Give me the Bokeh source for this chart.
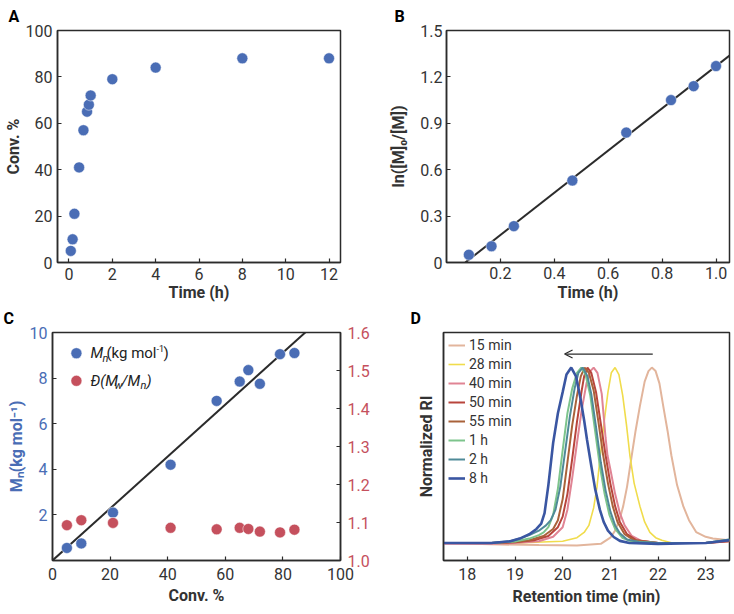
import numpy as np
from bokeh.plotting import figure
from bokeh.layouts import column, row
from bokeh.models import (Range1d, LinearAxis, FixedTicker, PrintfTickFormatter, Label,
                          Legend, LegendItem, Arrow, OpenHead)
from bokeh.embed import file_html
from bokeh.resources import INLINE

# ---------------- data ----------------
# Panel A: conversion vs time
time_a = [0.083, 0.167, 0.25, 0.467, 0.667, 0.833, 0.917, 1.0, 2.0, 4.0, 8.0, 12.0]
conv_a = [5, 10, 21, 41, 57, 65, 68, 72, 79, 84, 88, 88]

# Panel B: ln([M]0/[M]) vs time
time_b = [0.083, 0.167, 0.25, 0.467, 0.667, 0.833, 0.917, 1.0]
lnm_b = [0.05, 0.105, 0.235, 0.53, 0.84, 1.05, 1.14, 1.27]

# Panel C: Mn and dispersity vs conversion
conv_c = [5, 10, 21, 41, 57, 65, 68, 72, 79, 84]
mn_c = [0.55, 0.75, 2.1, 4.2, 7.0, 7.85, 8.35, 7.75, 9.05, 9.1]
disp_c = [1.093, 1.106, 1.099, 1.086, 1.082, 1.086, 1.083, 1.076, 1.074, 1.081]

# Panel D: GPC traces (retention time, normalized RI)
gpc_labels = ["15 min", "28 min", "40 min", "50 min", "55 min", "1 h", "2 h", "8 h"]
gpc_colors = ["#e2b59c", "#f0dc4c", "#e08494", "#b8453c", "#a9623a", "#7dc48c", "#4f8a98", "#3a56a2"]

rt_15 = [17.5, 18.5, 19.5, 20.3, 20.8, 21.0, 21.1, 21.2, 21.27, 21.35, 21.45, 21.53, 21.62, 21.72,
         21.8, 21.87, 21.95, 22.03, 22.11, 22.2, 22.28, 22.4, 22.53, 22.65, 22.8, 23.0, 23.15, 23.5]
ri_15 = [0.0, -0.008, -0.012, -0.015, -0.005, 0.03, 0.07, 0.14, 0.21, 0.32, 0.5, 0.64, 0.78, 0.92,
         0.98, 1.0, 0.98, 0.91, 0.78, 0.64, 0.50, 0.33, 0.21, 0.13, 0.062, 0.035, 0.025, 0.015]
rt_28 = [17.5, 19.0, 20.0, 20.3, 20.45, 20.55, 20.65, 20.72, 20.79, 20.87, 20.95, 21.02, 21.1,
         21.18, 21.26, 21.34, 21.41, 21.5, 21.62, 21.72, 21.83, 21.95, 22.08, 22.3, 23.0, 23.5]
ri_28 = [0.0, 0.0, 0.01, 0.03, 0.06, 0.1, 0.2, 0.32, 0.5, 0.69, 0.86, 0.97, 1.0,
         0.96, 0.84, 0.67, 0.50, 0.34, 0.21, 0.12, 0.06, 0.03, 0.015, 0.0, 0.0, 0.01]
rt_40 = [17.5, 18.5, 19.0, 19.5, 19.8, 20.0, 20.1, 20.2, 20.3, 20.4, 20.5, 20.58, 20.65, 20.73,
         20.82, 20.9, 20.94, 21.0, 21.1, 21.2, 21.3, 21.45, 21.65, 22.0, 23.0, 23.5]
ri_40 = [-0.005, -0.005, 0.0, 0.01, 0.035, 0.09, 0.19, 0.37, 0.57, 0.76, 0.91, 0.98, 1.0, 0.97,
         0.85, 0.60, 0.5, 0.42, 0.28, 0.17, 0.10, 0.04, 0.012, 0.0, 0.0, 0.01]
rt_50 = [17.5, 18.5, 19.0, 19.4, 19.7, 19.9, 20.0, 20.1, 20.2, 20.3, 20.4, 20.45, 20.52, 20.6,
         20.7, 20.8, 20.9, 21.0, 21.1, 21.2, 21.35, 21.55, 22.0, 23.0, 23.5]
ri_50 = [0.0, 0.0, 0.004, 0.015, 0.04, 0.09, 0.15, 0.28, 0.48, 0.69, 0.87, 0.95, 1.0, 0.97,
         0.86, 0.68, 0.50, 0.34, 0.21, 0.12, 0.05, 0.015, 0.0, 0.0, 0.01]
rt_55 = [17.5, 18.5, 19.0, 19.3, 19.6, 19.8, 19.9, 20.0, 20.1, 20.2, 20.3, 20.38, 20.46, 20.55,
         20.65, 20.75, 20.85, 20.95, 21.05, 21.15, 21.3, 21.5, 22.0, 23.0, 23.5]
ri_55 = [0.0, 0.0, 0.005, 0.015, 0.04, 0.08, 0.13, 0.25, 0.46, 0.67, 0.84, 0.95, 1.0, 0.97,
         0.87, 0.69, 0.50, 0.34, 0.21, 0.12, 0.05, 0.015, 0.0, 0.0, 0.015]
rt_1h = [17.5, 18.5, 19.0, 19.3, 19.5, 19.6, 19.7, 19.8, 19.9, 20.0, 20.1, 20.2, 20.3, 20.39,
         20.48, 20.58, 20.68, 20.78, 20.88, 20.98, 21.1, 21.25, 21.45, 22.0, 23.0, 23.5]
ri_1h = [0.0, 0.0, 0.008, 0.025, 0.045, 0.06, 0.09, 0.16, 0.31, 0.53, 0.74, 0.88, 0.97, 1.0,
         0.96, 0.84, 0.64, 0.44, 0.28, 0.16, 0.08, 0.03, 0.008, 0.0, 0.0, 0.02]
rt_2h = [17.5, 18.5, 18.9, 19.1, 19.3, 19.5, 19.65, 19.75, 19.85, 19.95, 20.05, 20.15, 20.25,
         20.33, 20.42, 20.52, 20.6, 20.7, 20.8, 20.9, 21.0, 21.1, 21.2, 21.35, 21.6, 22.0, 23.0, 23.5]
ri_2h = [0.0, 0.0, 0.01, 0.025, 0.045, 0.07, 0.10, 0.13, 0.19, 0.32, 0.52, 0.72, 0.88,
         0.97, 1.0, 0.95, 0.85, 0.66, 0.46, 0.30, 0.18, 0.10, 0.055, 0.02, 0.005, 0.0, 0.0, 0.02]
rt_8h = [17.5, 18.5, 18.9, 19.1, 19.3, 19.45, 19.55, 19.62, 19.7, 19.8, 19.9, 20.0, 20.08, 20.18,
         20.28, 20.37, 20.45, 20.51, 20.6, 20.68, 20.78, 20.86, 20.95, 21.07, 21.2, 21.4, 22.0, 23.0, 23.5]
ri_8h = [0.0, 0.0, 0.01, 0.025, 0.05, 0.08, 0.11, 0.17, 0.33, 0.57, 0.74, 0.86, 0.96, 1.0,
         0.95, 0.83, 0.70, 0.59, 0.44, 0.31, 0.19, 0.12, 0.07, 0.034, 0.012, 0.0, -0.005, 0.0, 0.015]

gpc_rt = [rt_15, rt_28, rt_40, rt_50, rt_55, rt_1h, rt_2h, rt_8h]
gpc_ri = [ri_15, ri_28, ri_40, ri_50, ri_55, ri_1h, ri_2h, ri_8h]
gpc_widths = [2, 1.6, 2, 2, 2, 2, 2, 2.6]

# ---------------- styles ----------------
BLUE = "#4a6db5"
RED = "#c5505d"
INK = "#2b2b2b"
TXT = "#333333"
FONT = "Roboto"


def style(p, tick_standoff=5, label_standoff=0):
    p.outline_line_color = INK
    p.outline_line_width = 1.5
    p.xgrid.visible = False
    p.ygrid.visible = False
    p.background_fill_color = "white"
    p.border_fill_color = "white"
    for ax in p.axis:
        ax.major_tick_in = 4
        ax.major_tick_out = 0
        ax.minor_tick_line_color = None
        ax.axis_line_color = INK
        ax.axis_line_width = 1.5
        ax.major_tick_line_color = INK
        ax.major_tick_line_width = 1.2
        ax.major_label_text_font = FONT
        ax.major_label_text_font_size = "16px"
        ax.major_label_text_color = TXT
        ax.axis_label_text_font = FONT
        ax.axis_label_text_font_size = "16px"
        ax.axis_label_text_font_style = "bold"
        ax.axis_label_text_color = TXT
        ax.major_label_standoff = tick_standoff
        ax.axis_label_standoff = label_standoff


def letter(p, txt, offset):
    p.title.text = txt
    p.title.align = "left"
    p.title.offset = offset
    p.title.standoff = 6
    p.title.text_font = FONT
    p.title.text_font_size = "16px"
    p.title.text_font_style = "bold"
    p.title.text_color = "black"
    p.title.vertical_align = "top"


W_L, W_R = 386, 346
H_T, H_B = 305, 307

# ---------------- Panel A ----------------
pa = figure(width=W_L, height=H_T, x_range=Range1d(-0.53, 12.53), y_range=Range1d(0, 100),
            output_backend="svg", toolbar_location=None,
            min_border_left=52, min_border_right=46, min_border_top=30, min_border_bottom=43)
pa.scatter(time_a, conv_a, size=11, fill_color=BLUE, line_color="white", line_width=0.5)
style(pa)
pa.xaxis.ticker = FixedTicker(ticks=[0, 2, 4, 6, 8, 10, 12])
pa.yaxis.ticker = FixedTicker(ticks=[0, 20, 40, 60, 80, 100])
pa.xaxis.axis_label = "Time (h)"
pa.yaxis.axis_label = "Conv. %"
letter(pa, "A", -49)

# ---------------- Panel B ----------------
pb = figure(width=W_R, height=H_T, x_range=Range1d(0, 1.05), y_range=Range1d(0, 1.5),
            output_backend="svg", toolbar_location=None,
            min_border_left=55, min_border_right=3, min_border_top=30, min_border_bottom=43)
slope_b, icpt_b = np.polyfit(time_b, lnm_b, 1)
x0_b = -icpt_b / slope_b
pb.line([x0_b, 1.05], [0, slope_b * 1.05 + icpt_b], line_color=INK, line_width=2)
pb.scatter(time_b, lnm_b, size=11, fill_color=BLUE, line_color="white", line_width=0.5)
style(pb, tick_standoff=4, label_standoff=1)
pb.yaxis.axis_label_standoff = 9
pb.xaxis.ticker = FixedTicker(ticks=[0.2, 0.4, 0.6, 0.8, 1.0])
pb.xaxis.formatter = PrintfTickFormatter(format="%.1f")
pb.yaxis.ticker = FixedTicker(ticks=[0, 0.3, 0.6, 0.9, 1.2, 1.5])
pb.yaxis.formatter = PrintfTickFormatter(format="%.1f")
pb.yaxis.major_label_overrides = {0: "0"}
pb.xaxis.axis_label = "Time (h)"
pb.yaxis.axis_label = "ln([M]\u2080/[M])"
letter(pb, "B", -52)

# ---------------- Panel C ----------------
pc = figure(width=W_L, height=H_B, x_range=Range1d(0, 100), y_range=Range1d(0, 10),
            output_backend="svg", toolbar_location=None,
            min_border_left=52, min_border_right=46, min_border_top=27, min_border_bottom=49)
pc.extra_y_ranges = {"disp": Range1d(1.0, 1.6)}
rax = LinearAxis(y_range_name="disp")
pc.add_layout(rax, "right")
cx = np.array(conv_c, dtype=float)
cy = np.array(mn_c, dtype=float)
slope_c = float((cx * cy).sum() / (cx * cx).sum())
pc.line([0, 100], [0, slope_c * 100], line_color=INK, line_width=2)
pc.scatter(conv_c, mn_c, size=11, fill_color=BLUE, line_color="white", line_width=0.5)
pc.scatter(conv_c, disp_c, size=11, fill_color=RED, line_color="white", line_width=0.5,
           y_range_name="disp")
style(pc, tick_standoff=7, label_standoff=3)
pc.yaxis[0].major_label_standoff = 5
pc.yaxis[0].axis_label_standoff = 1
pc.xaxis.ticker = FixedTicker(ticks=[0, 20, 40, 60, 80, 100])
pc.yaxis[0].ticker = FixedTicker(ticks=[2, 4, 6, 8, 10])
pc.yaxis[0].major_label_text_color = BLUE
pc.yaxis[0].axis_label = "M\u2099(kg mol\u207b\u00b9)"
pc.yaxis[0].axis_label_text_color = BLUE
rax.ticker = FixedTicker(ticks=[1.0, 1.1, 1.2, 1.3, 1.4, 1.5, 1.6])
rax.formatter = PrintfTickFormatter(format="%.1f")
rax.major_label_text_color = RED
rax.major_label_standoff = 7
pc.add_layout(Label(x=100, y=1.3, y_range_name="disp", x_offset=35, text="\u0110",
                    text_font=FONT, text_font_size="16px", text_font_style="italic",
                    text_color=RED, text_baseline="middle", text_align="left"))
pc.xaxis.axis_label = "Conv. %"

# manual legend (layout anchors in data units of the left axis)
LEG_X, LEG_Y1, LEG_Y2 = 8.3, 9.09, 7.88
pc.scatter([LEG_X], [LEG_Y1], size=11, fill_color=BLUE, line_color="white", line_width=0.5)
pc.scatter([LEG_X], [LEG_Y2], size=11, fill_color=RED, line_color="white", line_width=0.5)


def leg_text(txt, y, dx, dy=0, size="15px", style_="normal"):
    pc.add_layout(Label(x=LEG_X, y=y, x_offset=14 + dx, y_offset=dy, text=txt,
                        text_font=FONT, text_font_size=size, text_font_style=style_,
                        text_color="#222222", text_baseline="middle", text_align="left"))


leg_text("M", LEG_Y1, 0, style_="italic")
leg_text("n", LEG_Y1, 12, dy=-5, size="11px", style_="italic")
leg_text("(kg mol", LEG_Y1, 16)
leg_text("-1", LEG_Y1, 66, dy=5, size="9px")
leg_text(")", LEG_Y1, 73)
leg_text("\u0110(M", LEG_Y2, 0, style_="italic")
leg_text("w", LEG_Y2, 24, dy=-5, size="11px", style_="italic")
leg_text("/M", LEG_Y2, 31, style_="italic")
leg_text("n", LEG_Y2, 50, dy=-5, size="11px", style_="italic")
leg_text(")", LEG_Y2, 56, style_="italic")
letter(pc, "C", -49)

# ---------------- Panel D ----------------
pd_ = figure(width=W_R, height=H_B, x_range=Range1d(17.5, 23.5), y_range=Range1d(-0.1, 1.2),
             output_backend="svg", toolbar_location=None,
             min_border_left=57, min_border_right=3, min_border_top=26, min_border_bottom=52)
items = []
for rt, ri, lab, col, lw in zip(gpc_rt, gpc_ri, gpc_labels, gpc_colors, gpc_widths):
    r = pd_.line(rt, ri, line_color=col, line_width=lw)
    items.append(LegendItem(label=lab, renderers=[r]))
style(pd_, tick_standoff=7, label_standoff=4)
pd_.xaxis.ticker = FixedTicker(ticks=[18, 19, 20, 21, 22, 23])
pd_.yaxis.ticker = FixedTicker(ticks=[])
pd_.yaxis.major_label_standoff = 0
pd_.yaxis.axis_label = "Normalized RI"
pd_.yaxis.axis_label_standoff = 8
pd_.xaxis.axis_label = "Retention time (min)"
leg = Legend(items=items, location="top_left", border_line_color=None, background_fill_alpha=0,
             label_text_font=FONT, label_text_font_size="14px", label_text_color=TXT,
             glyph_width=17, glyph_height=16, label_height=15, spacing=3, padding=2, margin=5,
             label_standoff=4)
pd_.add_layout(leg)
ARROW_X0, ARROW_X1, ARROW_Y = 21.89, 20.04, 1.077
pd_.add_layout(Arrow(end=OpenHead(size=8, line_width=1.2, line_color=INK),
                     x_start=ARROW_X0, y_start=ARROW_Y, x_end=ARROW_X1, y_end=ARROW_Y,
                     line_color=INK, line_width=1.2))
letter(pd_, "D", -33)

layout = column(row(pa, pb), row(pc, pd_))
open("out.html", "w").write(file_html(layout, INLINE))
